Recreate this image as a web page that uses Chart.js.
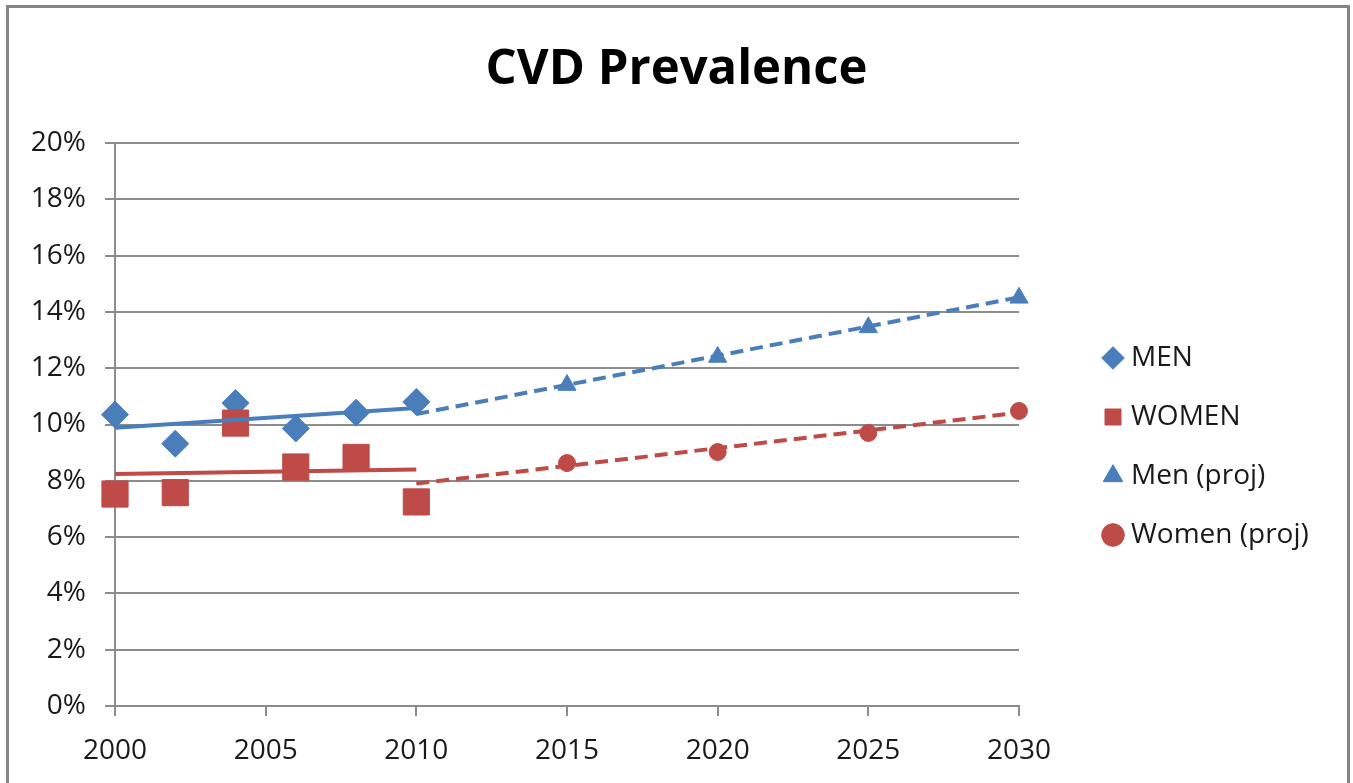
<!DOCTYPE html>
<html>
<head>
<meta charset="utf-8">
<title>CVD Prevalence</title>
<script src="https://cdn.jsdelivr.net/npm/chart.js@4"></script>
<style>
  html, body {margin: 0; padding: 0; background: #fff; overflow: hidden;}
  .wrap {position: absolute; left: 0; top: 0; width: 1353px; height: 783px;}
  .frame {
    position: absolute; left: 6px; top: 5px; width: 1338px; height: 820px;
    border: 3px solid #858585; border-bottom: none; pointer-events: none;
  }
</style>
</head>
<body>
<div class="wrap">
  <canvas id="chart" width="1353" height="783"></canvas>
  <div class="frame"></div>
</div>
<script>
// measured values (percent)
const years = [2000, 2002, 2004, 2006, 2008, 2010]
const menValues = [10.35, 9.32, 10.76, 9.86, 10.42, 10.8]
const womenValues = [7.53, 7.58, 10.05, 8.49, 8.83, 7.25]

const projYears = [2015, 2020, 2025, 2030]
const menProj = [11.4, 12.4, 13.45, 14.5]
const womenProj = [8.63, 9.02, 9.7, 10.48]

// trendline end points
const trendYears = [2000, 2010]
const menTrend = [9.88, 10.59]
const womenTrend = [8.24, 8.4]
const projTrendYears = [2010, 2030]
const menProjTrend = [10.37, 14.52]
const womenProjTrend = [7.9, 10.42]

const yTicks = [0, 2, 4, 6, 8, 10, 12, 14, 16, 18, 20]
const xTicks = [2000, 2005, 2010, 2015, 2020, 2025, 2030]

const BLUE = '#4a7ebb'
const RED = '#be4b48'
const GRID = '#8c8c8c'
const FONT = '"Open Sans", "Liberation Sans", sans-serif'

const toPoints = (xs, ys) => xs.map((x, i) => ({x, y: ys[i]}))

// legend sizing, so the plot area ends at x=1019
const LEGEND_FONT = 28
const LEGEND_PAD = 31
const LEGEND_BOX = 8
const LEGEND_GAP = 59
const measure = document.createElement('canvas').getContext('2d')
measure.font = `${LEGEND_FONT}px ${FONT}`
const longest = Math.max(...['MEN', 'WOMEN', 'Men (proj)', 'Women (proj)']
    .map(t => measure.measureText(t).width))
// chart.js adds 10px to a vertical legend
const legendWidth = LEGEND_PAD + LEGEND_BOX + LEGEND_FONT / 2 + longest + 10
const padRight = Math.max(0, 1353 - 1019 - LEGEND_GAP - legendWidth)

const marker = (label, data, color, style, radius, order) => ({
  label,
  data,
  order,
  clip: false,
  showLine: false,
  pointStyle: style,
  pointRadius: radius,
  pointBackgroundColor: color,
  pointBorderColor: color,
  pointBorderWidth: 1,
  backgroundColor: color,
  borderColor: color,
})

const trend = (data, color, dash) => ({
  label: 'trend',
  trend: true,
  data,
  order: 0,
  showLine: true,
  pointRadius: 0,
  borderColor: color,
  borderWidth: 4,
  borderDash: dash,
  borderCapStyle: 'butt',
})

const datasets = [
  marker('MEN', toPoints(years, menValues), BLUE, 'rectRot', 13.5, 2),
  marker('WOMEN', toPoints(years, womenValues), RED, 'rect', 18.5, 1),
  marker('Men (proj)', toPoints(projYears, menProj), BLUE, 'triangle', 10.5, 2),
  marker('Women (proj)', toPoints(projYears, womenProj), RED, 'circle', 8.5, 1),
  trend(toPoints(trendYears, menTrend), BLUE, []),
  trend(toPoints(trendYears, womenTrend), RED, []),
  trend(toPoints(projTrendYears, menProjTrend), BLUE, [13, 7]),
  trend(toPoints(projTrendYears, womenProjTrend), RED, [13, 7]),
]

// invisible right-hand box used only as spacing
const spacer = (width, weight) => ({
  type: 'linear',
  position: 'right',
  weight,
  grid: {display: false},
  border: {display: false},
  ticks: {display: false},
  afterFit: scale => {
    scale.width = width
  },
})

const config = {
  type: 'scatter',
  data: {datasets},
  options: {
    responsive: false,
    animation: false,
    layout: {padding: 0},
    scales: {
      x: {
        type: 'linear',
        min: 2000,
        max: 2030,
        afterBuildTicks: scale => {
          scale.ticks = xTicks.map(value => ({value}))
        },
        afterFit: scale => {
          scale.height = 77
        },
        grid: {drawOnChartArea: false, drawTicks: true, tickLength: 10,
          color: GRID, lineWidth: 2},
        border: {color: GRID, width: 2},
        ticks: {
          padding: 18,
          color: '#1a1a1a',
          font: {family: FONT, size: 28},
          callback: v => String(v),
          maxRotation: 0,
        },
      },
      y: {
        min: 0,
        max: 20,
        afterBuildTicks: scale => {
          scale.ticks = yTicks.map(value => ({value}))
        },
        afterFit: scale => {
          scale.width = 115
        },
        grid: {color: GRID, lineWidth: 2, tickLength: 10},
        border: {color: GRID, width: 2},
        ticks: {
          padding: 19,
          color: '#1a1a1a',
          font: {family: FONT, size: 28},
          callback: v => v + '%',
        },
      },
      gap: spacer(LEGEND_GAP, 0),
      edge: spacer(padRight, 2000),
    },
    plugins: {
      title: {
        display: true,
        text: 'CVD Prevalence',
        color: '#000',
        font: {family: FONT, size: 49, weight: 'bold'},
        padding: {top: 41, bottom: 43.2},
      },
      legend: {
        position: 'right',
        fullSize: false,
        maxWidth: 400,
        title: {display: true, text: '', font: {size: 20}, padding: 10},
        labels: {
          usePointStyle: true,
          boxWidth: LEGEND_BOX,
          boxHeight: 16,
          padding: LEGEND_PAD,
          color: '#1a1a1a',
          font: {family: FONT, size: LEGEND_FONT},
          filter: item => !datasets[item.datasetIndex].trend,
          sort: (a, b) => a.datasetIndex - b.datasetIndex,
        },
      },
      tooltip: {enabled: false},
    },
  },
}

new Chart('chart', config)
</script>
</body>
</html>
